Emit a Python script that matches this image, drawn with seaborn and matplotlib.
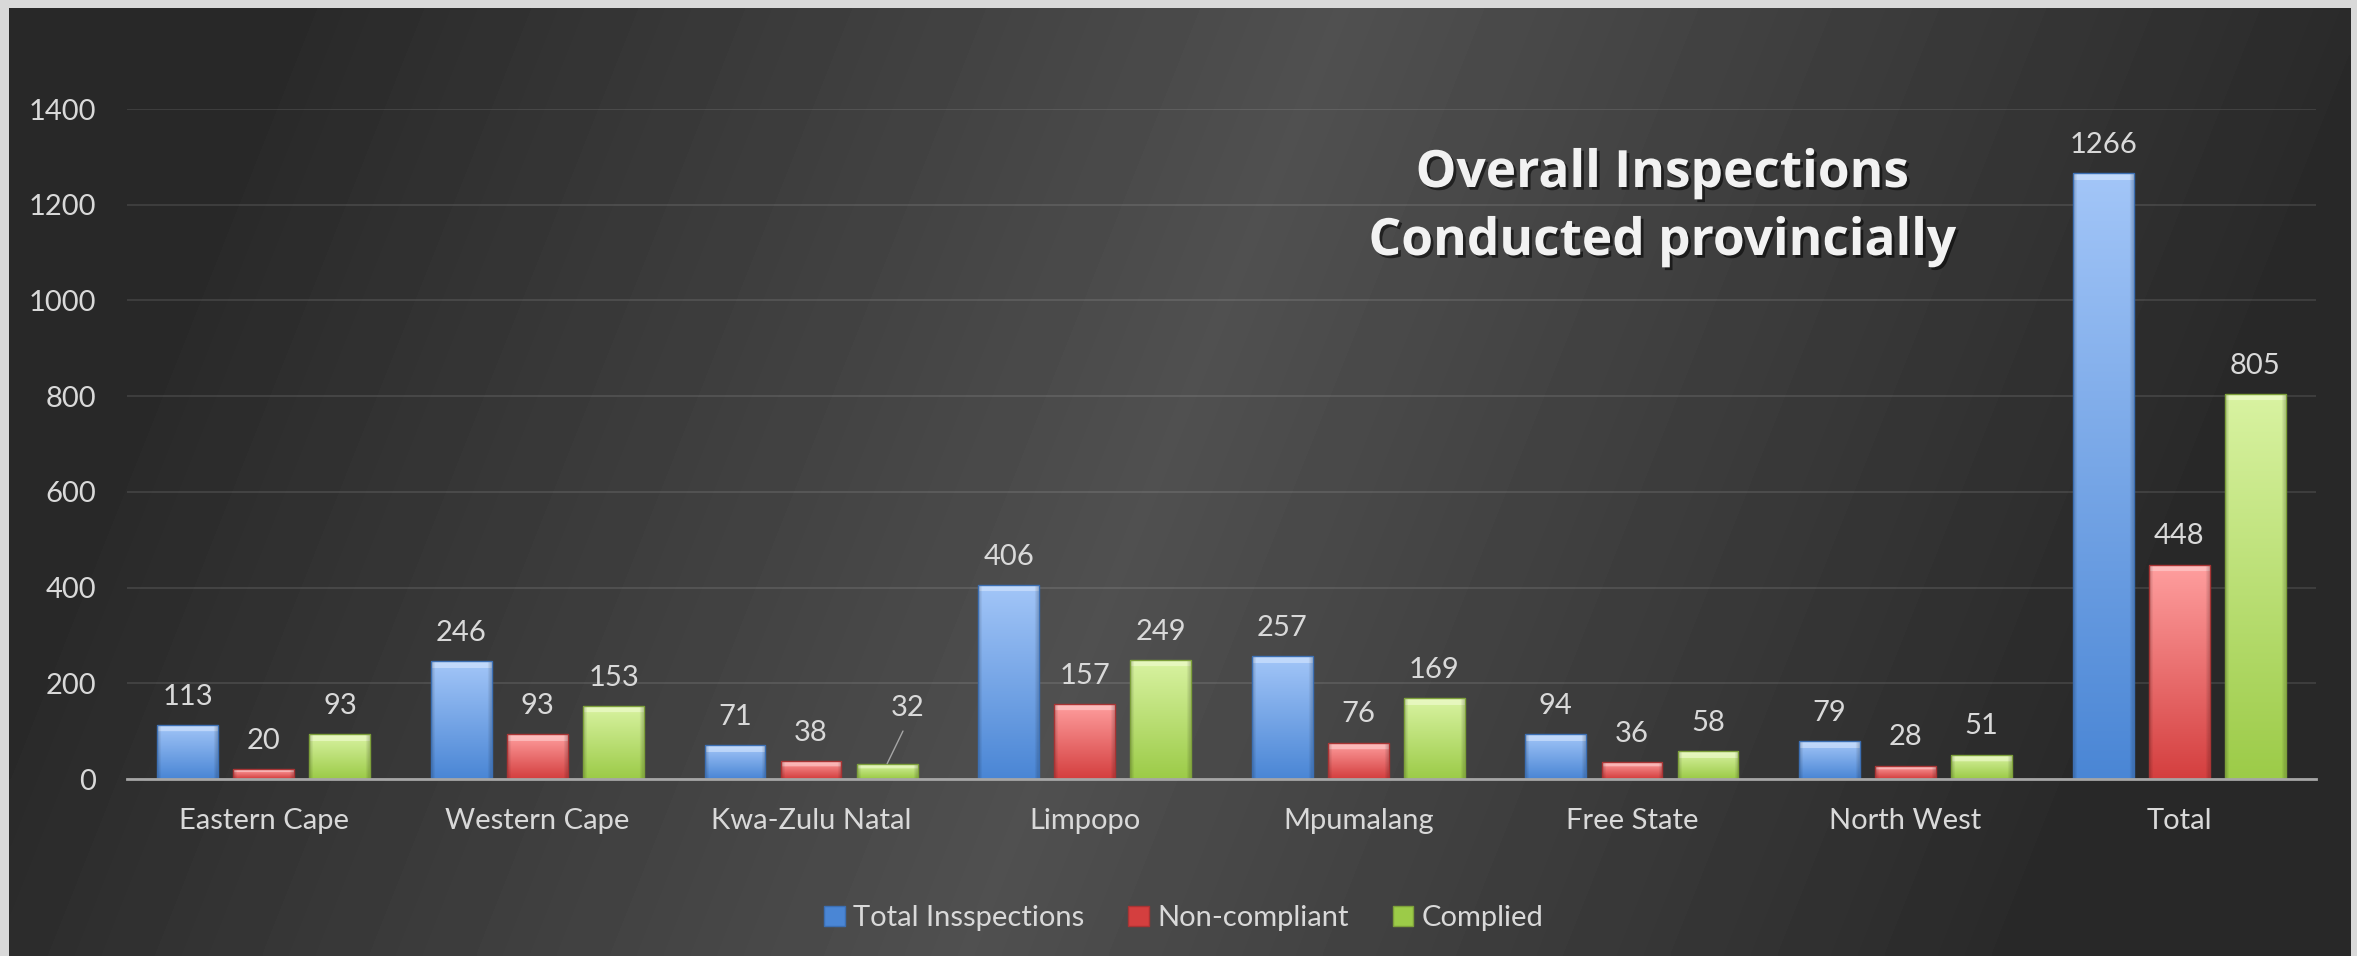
#%% Importing
import numpy as np
import pandas as pd
import matplotlib
matplotlib.use("Agg")
import matplotlib.pyplot as plt
import matplotlib.patches as mpatches
import matplotlib.patheffects as pe
from matplotlib.colors import to_rgb
import seaborn as sns

#%% Data
provinces = ["Eastern Cape", "Western Cape", "Kwa-Zulu Natal", "Limpopo",
             "Mpumalang", "Free State", "North West", "Total"]
total_inspections = [113, 246, 71, 406, 257, 94, 79, 1266]
non_compliant = [20, 93, 38, 157, 76, 36, 28, 448]
complied = [93, 153, 32, 249, 169, 58, 51, 805]
series_names = ["Total Insspections", "Non-compliant", "Complied"]

df = pd.DataFrame({"Province": provinces,
                   series_names[0]: total_inspections,
                   series_names[1]: non_compliant,
                   series_names[2]: complied})
df = df.melt(id_vars="Province", var_name="Series", value_name="Count")

# bottom colour, top colour, bevel highlight, edge
bar_styles = {
    series_names[0]: ("#4a86d5", "#a3c6f8", "#dbeaff", "#3c6fb3"),
    series_names[1]: ("#d43f3f", "#ff9f9f", "#ffd6d6", "#a83434"),
    series_names[2]: ("#9ccb48", "#d9f3a2", "#f4fdd8", "#7da03a"),
}
palette = {k: v[0] for k, v in bar_styles.items()}

text_col = "#d9d9d9"

#%% Figure and gradient background
W, H = 2357, 956
fig = plt.figure(figsize=(W / 100, H / 100), dpi=100, facecolor="#d9d9d9")
plt.rcParams["font.family"] = ["Lato", "DejaVu Sans"]

bg = fig.add_axes([9 / W, 0, (2351 - 9) / W, (H - 8) / H])
yy, xx = np.mgrid[0:948:4, 0:2342:4]
s = 0.93 * (xx + 9) + 0.37 * (yy + 8)
f = np.clip(1 - np.abs(s - 1250) / 1000, 0, 1)
shade = (40 + 40 * f) / 255
bg.imshow(shade, cmap="gray", vmin=0, vmax=1, aspect="auto",
          interpolation="bilinear", origin="upper")
bg.set_axis_off()
bg.set_zorder(0)

#%% Main bar plot
ax = fig.add_axes([127 / W, (H - 779) / H, 2189 / W, 670 / H])
ax.set_zorder(1)
ax.patch.set_alpha(0)

sns.barplot(data=df, x="Province", y="Count", hue="Series", hue_order=series_names,
            palette=palette, width=0.834, gap=0.2, ax=ax, legend=False)

ax.set_xlim(-0.5, 7.5)
ax.set_ylim(0, 1400)
ax.set_yticks(range(0, 1401, 200))
ax.set_xlabel("")
ax.set_ylabel("")

px_per_unit = 670 / 1400


def paint_bar(patch, style):
    # vertical gradient with a lighter bevel on top, clipped to the bar
    bottom, top, light, edge = style
    x0, w, h = patch.get_x(), patch.get_width(), patch.get_height()
    n = max(int(round(h * px_per_unit)), 2)
    t = np.linspace(0, 1, n)[:, None, None]
    c0, c1 = np.array(to_rgb(bottom)), np.array(to_rgb(top))
    img = np.repeat(c0 + (c1 - c0) * t, 20, axis=1)
    k = min(7, n // 3)
    if k:
        img[-k:] = 0.45 * img[-k:] + 0.55 * np.array(to_rgb(light))
    img[:, :1] *= 0.85
    img[:, -1:] *= 0.85
    im = ax.imshow(img, extent=(x0, x0 + w, 0, h), aspect="auto", origin="lower",
                   interpolation="bilinear", zorder=2)
    im.set_clip_path(patch)
    patch.set_facecolor("none")
    patch.set_edgecolor(edge)
    patch.set_linewidth(1)
    patch.set_zorder(3)


for name, cont in zip(series_names, ax.containers):
    for patch in cont.patches:
        paint_bar(patch, bar_styles[name])

ax.set_xlim(-0.5, 7.5)
ax.set_ylim(0, 1400)

# value labels
for name, cont in zip(series_names, ax.containers):
    for prov, patch in zip(provinces, cont.patches):
        h = patch.get_height()
        xc = patch.get_x() + patch.get_width() / 2
        if prov == "Kwa-Zulu Natal" and name == "Complied":
            ax.annotate(f"{int(h)}", xy=(xc, h), xytext=(15, 34.5),
                        textcoords="offset points", ha="center", va="baseline",
                        fontsize=21, color=text_col, zorder=4,
                        arrowprops=dict(arrowstyle="-", color="#a6a6a6", lw=1,
                                        relpos=(0.5, 0), shrinkA=6, shrinkB=0))
        else:
            ax.annotate(f"{int(h)}", xy=(xc, h), xytext=(0, 14.5),
                        textcoords="offset points", ha="center", va="baseline",
                        fontsize=21, color=text_col, zorder=4)

# axes styling
ax.yaxis.grid(True, color="white", alpha=0.1, lw=1.5)
ax.xaxis.grid(False)
ax.set_axisbelow(True)
for side in ["top", "right", "left"]:
    ax.spines[side].set_visible(False)
ax.spines["bottom"].set_color("#a6a6a6")
ax.spines["bottom"].set_linewidth(2)
ax.spines["bottom"].set_zorder(5)
ax.tick_params(axis="both", length=0, colors=text_col, labelsize=21)
ax.tick_params(axis="y", pad=22)
ax.tick_params(axis="x", pad=21)

#%% Title
shadow = [pe.withSimplePatchShadow(offset=(2, -2), shadow_rgbFace="black", alpha=0.55)]
title_font = dict(ha="center", va="baseline", fontsize=37, fontweight="bold",
                  color="#f2f2f2", path_effects=shadow, zorder=5,
                  family=["Open Sans", "DejaVu Sans"])
fig.text(1662 / W, (H - 187) / H, "Overall Inspections", **title_font)
fig.text(1662 / W, (H - 255) / H, "Conducted provincially", **title_font)

#%% Legend
handles = [mpatches.Patch(facecolor=bar_styles[n][0], edgecolor=bar_styles[n][3], label=n)
           for n in series_names]
fig.legend(handles=handles, loc="center", bbox_to_anchor=(1184 / W, (H - 918) / H),
           ncol=3, frameon=False, fontsize=21, labelcolor=text_col,
           handlelength=0.7, handleheight=0.7, handletextpad=0.3, columnspacing=1.5)

plt.savefig("out.png", dpi=100, facecolor=fig.get_facecolor())
plt.close()
